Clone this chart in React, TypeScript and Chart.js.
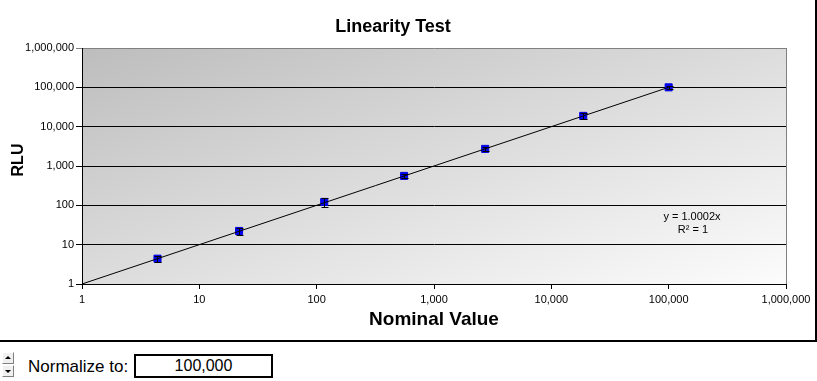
import React, { useEffect, useRef } from "react";
import { Chart, registerables } from "chart.js";

Chart.register(...registerables);

// ---- data ----
const nominalValues = [4.4, 21.8, 116, 556, 2730, 18700, 100000];
const rluValues = [4.4, 22.3, 122, 560, 2720, 18800, 100000];
const rluErrors = [0.8, 4.5, 32, 70, 350, 3500, 9000];
const axisTicks = [1, 10, 100, 1000, 10000, 100000, 1000000];
const trendSlope = 1.0002;
const trendRange = [1, 100000];
const trendEquation = "y = 1.0002x";
const trendR2 = "R² = 1";
const trendLabelAnchor = [158000, 50];
const chartTitle = "Linearity Test";
const xTitle = "Nominal Value";
const yTitle = "RLU";
const normalizeLabel = "Normalize to:";
const normalizeValue = "100,000";

const FONT = '"Liberation Sans", Arial, Helvetica, sans-serif';

const decorPlugin = {
  id: "decor",
  beforeDraw(chart: any) {
    const { ctx, chartArea: a } = chart;
    const w = a.right - a.left;
    const h = a.bottom - a.top;
    const k = 2 / (1 / (w * w) + 1 / (h * h));
    const g = ctx.createLinearGradient(a.left, a.top, a.left + k / w, a.top + k / h);
    g.addColorStop(0, "#bdbdbd");
    g.addColorStop(1, "#fcfcfc");
    ctx.save();
    ctx.fillStyle = g;
    ctx.fillRect(a.left, a.top, w, h);
    ctx.restore();
  },
  afterDatasetsDraw(chart: any) {
    const { ctx, chartArea: a, scales } = chart;
    const xs = scales.x;
    const ys = scales.y;
    ctx.save();
    // right border of plot area
    ctx.strokeStyle = "#808080";
    ctx.lineWidth = 1;
    ctx.beginPath();
    const rx = Math.round(a.right) + 0.5;
    ctx.moveTo(rx, Math.round(a.top));
    ctx.lineTo(rx, Math.round(a.bottom));
    ctx.stroke();
    // error bars
    ctx.strokeStyle = "#000";
    ctx.beginPath();
    nominalValues.forEach((xv, i) => {
      const px = Math.round(xs.getPixelForValue(xv)) + 0.5;
      const pTop = Math.round(ys.getPixelForValue(rluValues[i] + rluErrors[i])) + 0.5;
      const pBot = Math.round(ys.getPixelForValue(rluValues[i] - rluErrors[i])) + 0.5;
      ctx.moveTo(px, pTop);
      ctx.lineTo(px, pBot);
      ctx.moveTo(px - 3, pTop);
      ctx.lineTo(px + 4, pTop);
      ctx.moveTo(px - 3, pBot);
      ctx.lineTo(px + 4, pBot);
    });
    ctx.stroke();
    // trendline label
    const lx = xs.getPixelForValue(trendLabelAnchor[0]);
    const ly = ys.getPixelForValue(trendLabelAnchor[1]);
    ctx.fillStyle = "#000";
    ctx.font = `11px ${FONT}`;
    ctx.textAlign = "center";
    ctx.textBaseline = "middle";
    ctx.fillText(trendEquation, lx, ly);
    ctx.fillText(trendR2, lx + 1, ly + 13);
    ctx.restore();
  },
  afterDraw(chart: any) {
    const { ctx, chartArea: a } = chart;
    ctx.save();
    ctx.translate(19, (a.top + a.bottom) / 2 - 6);
    ctx.rotate(-Math.PI / 2);
    ctx.fillStyle = "#000";
    ctx.font = `bold 16px ${FONT}`;
    ctx.textAlign = "center";
    ctx.textBaseline = "middle";
    ctx.fillText(yTitle, 0, 0);
    ctx.restore();
  },
};

const fmt = (v: any) => Number(v).toLocaleString("en-US");

export default function App() {
  const ref = useRef<HTMLCanvasElement | null>(null);

  useEffect(() => {
    document.body.style.margin = "0";
    if (!ref.current) return;
    const chart = new Chart(ref.current, {
      type: "scatter",
      data: {
        datasets: [
          {
            type: "line",
            label: "Trend",
            data: trendRange.map((x) => ({ x, y: trendSlope * x })),
            borderColor: "#000",
            borderWidth: 1,
            pointRadius: 0,
            fill: false,
            order: 0,
          } as any,
          {
            type: "scatter",
            label: "RLU",
            data: nominalValues.map((x, i) => ({ x, y: rluValues[i] })),
            pointStyle: "rect",
            pointRadius: 5,
            backgroundColor: "#0000ff",
            borderColor: "#0000e0",
            borderWidth: 1,
            order: 1,
          } as any,
        ],
      },
      options: {
        animation: false,
        responsive: false,
        maintainAspectRatio: false,
        layout: { padding: { top: 0, right: 29, bottom: 0, left: 0 } },
        plugins: {
          legend: { display: false },
          tooltip: { enabled: false },
          title: {
            display: true,
            text: chartTitle,
            color: "#000",
            font: { family: FONT, size: 18, weight: "bold", lineHeight: "22px" } as any,
            padding: { top: 16, bottom: 10 },
          },
        },
        scales: {
          x: {
            type: "logarithmic",
            position: "bottom",
            min: 1,
            max: 1000000,
            afterBuildTicks: (s: any) => {
              s.ticks = axisTicks.map((v) => ({ value: v }));
            },
            afterFit: (s: any) => {
              s.height = 56;
            },
            grid: { drawOnChartArea: false, drawTicks: true, tickLength: 5, color: "#000" },
            border: { color: "#000", width: 1 },
            ticks: {
              color: "#000",
              font: { family: FONT, size: 11 },
              padding: 4,
              maxRotation: 0,
              autoSkip: false,
              callback: fmt,
            },
            title: {
              display: true,
              text: xTitle,
              color: "#000",
              font: { family: FONT, size: 19, weight: "bold", lineHeight: "22px" } as any,
              padding: { top: 0, bottom: 9 },
            },
          } as any,
          y: {
            type: "logarithmic",
            position: "left",
            min: 1,
            max: 1000000,
            afterBuildTicks: (s: any) => {
              s.ticks = axisTicks.map((v) => ({ value: v }));
            },
            afterFit: (s: any) => {
              s.width = 82;
            },
            grid: {
              drawTicks: true,
              tickLength: 6,
              color: (c: any) => (c.tick && c.tick.value === 1000000 ? "#808080" : "#000"),
            },
            border: { color: "#000", width: 1 },
            ticks: {
              color: "#000",
              font: { family: FONT, size: 11 },
              padding: 2,
              autoSkip: false,
              callback: fmt,
            },
          } as any,
        },
      },
      plugins: [decorPlugin],
    });
    return () => chart.destroy();
  }, []);

  const btn: React.CSSProperties = {
    position: "absolute",
    left: 0,
    width: 12,
    height: 12,
    boxSizing: "border-box",
    background: "#f0f0f0",
    borderTop: "1px solid #ffffff",
    borderLeft: "1px solid #ffffff",
    borderRight: "1px solid #808080",
    borderBottom: "1px solid #808080",
  };
  const tri = (up: boolean): React.CSSProperties => ({
    position: "absolute",
    left: 2,
    top: up ? 3 : 4,
    width: 0,
    height: 0,
    borderLeft: "3px solid transparent",
    borderRight: "3px solid transparent",
    ...(up ? { borderBottom: "3px solid #000" } : { borderTop: "3px solid #000" }),
  });

  return (
    <div style={{ position: "absolute", left: 0, top: 0, width: 817, height: 381, background: "#fff", fontFamily: FONT }}>
      <div
        style={{
          position: "absolute",
          left: 0,
          top: 0,
          width: 815,
          height: 340,
          borderRight: "2px solid #000",
          borderBottom: "2px solid #000",
        }}
      >
        <canvas ref={ref} width={815} height={340} style={{ display: "block", width: 815, height: 340 }} />
      </div>
      <div style={{ position: "absolute", left: 2, top: 352, width: 12, height: 26 }}>
        <div style={{ ...btn, top: 0 }}>
          <div style={tri(true)} />
        </div>
        <div style={{ ...btn, top: 13 }}>
          <div style={tri(false)} />
        </div>
      </div>
      <div
        style={{
          position: "absolute",
          left: 28,
          top: 357,
          fontSize: 17,
          lineHeight: "20px",
          color: "#000",
          whiteSpace: "nowrap",
        }}
      >
        {normalizeLabel}
      </div>
      <div
        style={{
          position: "absolute",
          left: 134,
          top: 354,
          width: 139,
          height: 24,
          boxSizing: "border-box",
          border: "2px solid #000",
          fontSize: 16,
          lineHeight: "20px",
          textAlign: "center",
          color: "#000",
        }}
      >
        {normalizeValue}
      </div>
    </div>
  );
}
